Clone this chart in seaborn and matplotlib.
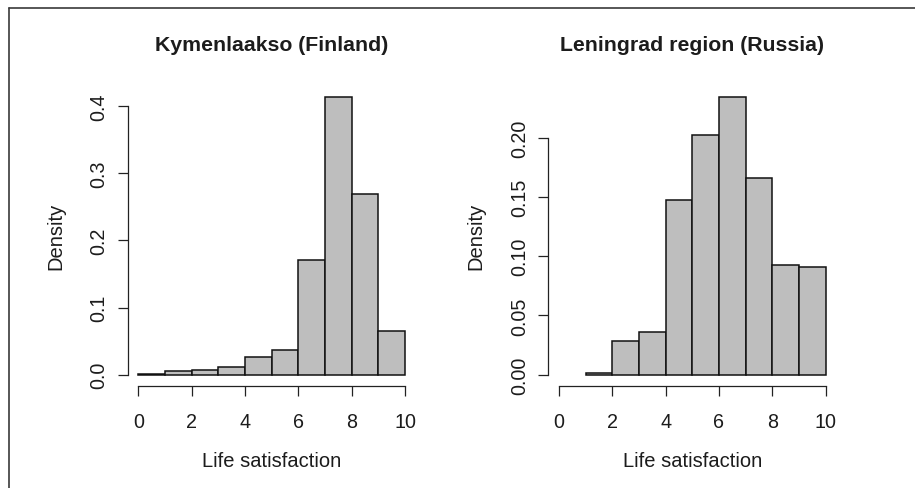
import matplotlib
matplotlib.use("Agg")
import matplotlib.pyplot as plt
from matplotlib.lines import Line2D
import numpy as np
import seaborn as sns

# ---- data ----
titles = ["Kymenlaakso (Finland)", "Leningrad region (Russia)"]
fin_edges = [0, 1, 2, 3, 4, 5, 6, 7, 8, 9, 10]
fin_density = [0.0015, 0.005, 0.007, 0.0115, 0.027, 0.0368, 0.171, 0.414, 0.2695, 0.0646]
rus_edges = [1, 2, 3, 4, 5, 6, 7, 8, 9, 10]
rus_density = [0.0017, 0.0282, 0.0358, 0.1477, 0.2025, 0.2346, 0.1657, 0.0923, 0.0906]
x_ticks = [0, 2, 4, 6, 8, 10]
fin_yticks = [0.0, 0.1, 0.2, 0.3, 0.4]
fin_yticklabels = ["0.0", "0.1", "0.2", "0.3", "0.4"]
rus_yticks = [0.00, 0.05, 0.10, 0.15, 0.20]
rus_yticklabels = ["0.00", "0.05", "0.10", "0.15", "0.20"]
xlabel = "Life satisfaction"
ylabel = "Density"

sns.set_style("white")
plt.rcParams["font.family"] = ["Liberation Sans", "DejaVu Sans"]

W, H = 915, 489
fig = plt.figure(figsize=(W / 100, H / 100), dpi=100)
fig.patch.set_facecolor("white")

TXT = "#1c1c1c"
ax_w = 288 / W
ax_b = (H - 386.8) / H
ax_h = 300.3 / H
positions = [127.7 / W, 548.3 / W]

panels = [
    (fin_edges, fin_density, fin_yticks, fin_yticklabels),
    (rus_edges, rus_density, rus_yticks, rus_yticklabels),
]

for i, (edges, dens, yt, ytl) in enumerate(panels):
    ax = fig.add_axes([positions[i], ax_b, ax_w, ax_h])
    centers = [(edges[k] + edges[k + 1]) / 2 for k in range(len(dens))]
    sns.histplot(x=centers, weights=dens, bins=edges, stat="count",
                 color="#BEBEBE", edgecolor="#111111", linewidth=1.1,
                 alpha=1, ax=ax)
    ymax = max(dens)
    ax.set_xlim(-0.4, 10.4)
    ax.set_ylim(-0.04 * ymax, 1.04 * ymax)
    for s in ["top", "right"]:
        ax.spines[s].set_visible(False)
    for s in ["left", "bottom"]:
        ax.spines[s].set_color("#222222")
        ax.spines[s].set_linewidth(0.9)
    ax.spines["bottom"].set_bounds(x_ticks[0], x_ticks[-1])
    ax.spines["left"].set_bounds(yt[0], yt[-1])
    ax.set_xticks(x_ticks)
    ax.set_xticklabels([str(t) for t in x_ticks])
    ax.set_yticks(yt)
    ax.set_yticklabels(ytl, rotation=90, va="center")
    ax.tick_params(axis="both", direction="out", length=7.2, width=0.9,
                   color="#222222", labelcolor=TXT, labelsize=14.2,
                   bottom=True, left=True, top=False, right=False)
    ax.tick_params(axis="x", pad=12)
    ax.tick_params(axis="y", pad=6.5)
    ax.set_xlabel(xlabel, fontsize=14.5, color=TXT, va="center")
    ax.xaxis.set_label_coords(0.5, -75 / 300.3)
    ax.set_ylabel(ylabel, fontsize=14.5, color=TXT, va="center")
    ax.yaxis.set_label_coords(-72 / 288, 0.5)
    ax.text(0.5, 1 + 41.5 / 300.3, titles[i], transform=ax.transAxes,
            ha="center", va="center", fontsize=15.3, fontweight="bold",
            color=TXT)
    ax.grid(False)

# frame lines (top and left)
ytop = 1 - 9 / H
xl = 9 / W
fig.add_artist(Line2D([xl, 1], [ytop, ytop], transform=fig.transFigure,
                      color="#3a3a3a", linewidth=1.2))
fig.add_artist(Line2D([xl, xl], [0, ytop], transform=fig.transFigure,
                      color="#3a3a3a", linewidth=1.2))

fig.savefig("out.png", dpi=100, facecolor="white")
